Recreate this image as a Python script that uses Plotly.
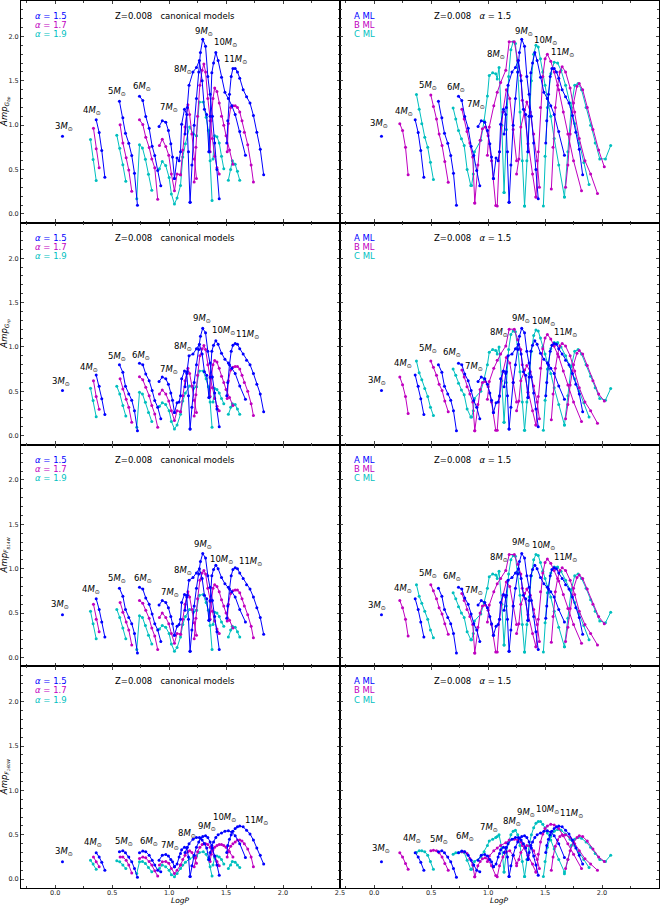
import plotly.graph_objects as go
from plotly.subplots import make_subplots

# ---------------- data (LogP and amplitudes, one sub-list per model track) ----------------
# alpha = 1.5 canonical (also "A ML" in right column)
A15_LOGP = [[0.064], [0.36, 0.386, 0.409, 0.436],
            [0.564, 0.594, 0.617, 0.646, 0.672, 0.696, 0.722],
            [0.74, 0.769, 0.795, 0.825, 0.851, 0.874, 0.90, 0.927],
            [0.912, 0.94, 0.971, 0.994, 1.015, 1.03, 1.047],
            [1.047, 1.07, 1.088, 1.10, 1.11, 1.135, 1.155, 1.17, 1.184],
            [1.14, 1.16, 1.175, 1.21, 1.24, 1.266, 1.29, 1.31, 1.33, 1.35],
            [1.184, 1.20, 1.22, 1.24, 1.26, 1.275, 1.295, 1.32, 1.34, 1.36, 1.38, 1.40, 1.42, 1.44],
            [1.35, 1.36, 1.375, 1.39, 1.41, 1.43, 1.46, 1.49, 1.52, 1.55, 1.58, 1.62, 1.67],
            [1.506, 1.515, 1.53, 1.545, 1.56, 1.58, 1.60, 1.62, 1.65, 1.68, 1.71, 1.74, 1.77, 1.80, 1.83]]
A15_AMP1 = [[0.876], [1.06, 0.917, 0.714, 0.414],
            [1.27, 1.083, 0.91, 0.797, 0.658, 0.459, 0.098],
            [1.327, 1.278, 1.098, 0.966, 0.763, 0.658, 0.489, 0.316],
            [0.985, 1.05, 1.034, 0.94, 0.79, 0.64, 0.40],
            [0.40, 0.63, 0.60, 0.70, 1.01, 1.18, 1.12, 0.70, 0.13],
            [0.90, 1.20, 1.45, 1.60, 1.65, 1.73, 1.50, 1.18, 1.12, 0.70],
            [0.13, 0.55, 1.00, 1.30, 1.60, 1.82, 1.97, 1.89, 1.55, 1.35, 1.10, 0.80, 0.50, 0.17],
            [0.70, 1.10, 1.59, 1.70, 1.82, 1.73, 1.54, 1.37, 1.30, 1.22, 1.12, 0.93, 0.66],
            [0.80, 1.05, 1.35, 1.55, 1.64, 1.64, 1.60, 1.53, 1.40, 1.32, 1.25, 1.11, 0.92, 0.73, 0.44]]
A15_AMP2 = [[0.51], [0.684, 0.556, 0.417, 0.237],
            [0.80, 0.714, 0.556, 0.47, 0.40, 0.28, 0.056],
            [0.816, 0.80, 0.695, 0.62, 0.51, 0.395, 0.32, 0.19],
            [0.61, 0.66, 0.64, 0.58, 0.48, 0.40, 0.26],
            [0.26, 0.37, 0.38, 0.45, 0.64, 0.73, 0.70, 0.45, 0.075],
            [0.55, 0.72, 0.90, 0.92, 0.98, 1.03, 0.92, 0.72, 0.68, 0.43],
            [0.075, 0.32, 0.60, 0.80, 0.97, 1.12, 1.21, 1.16, 0.95, 0.82, 0.66, 0.48, 0.30, 0.10],
            [0.43, 0.66, 0.95, 1.02, 1.07, 1.03, 0.93, 0.86, 0.82, 0.76, 0.70, 0.56, 0.41],
            [0.45, 0.60, 0.80, 0.95, 1.02, 1.04, 1.03, 0.98, 0.92, 0.85, 0.80, 0.70, 0.58, 0.47, 0.27]]
A15_AMP3 = [[0.48], [0.66, 0.54, 0.40, 0.23],
            [0.78, 0.69, 0.54, 0.45, 0.38, 0.27, 0.05],
            [0.79, 0.77, 0.67, 0.60, 0.49, 0.38, 0.31, 0.18],
            [0.59, 0.64, 0.62, 0.56, 0.46, 0.38, 0.25],
            [0.25, 0.35, 0.37, 0.43, 0.62, 0.71, 0.68, 0.43, 0.07],
            [0.53, 0.70, 0.87, 0.90, 0.95, 1.00, 0.89, 0.70, 0.66, 0.42],
            [0.07, 0.31, 0.58, 0.78, 0.94, 1.08, 1.17, 1.12, 0.92, 0.79, 0.64, 0.46, 0.29, 0.09],
            [0.42, 0.64, 0.92, 0.99, 1.04, 1.00, 0.90, 0.83, 0.79, 0.74, 0.68, 0.54, 0.40],
            [0.44, 0.58, 0.77, 0.92, 0.99, 1.01, 1.00, 0.95, 0.89, 0.82, 0.77, 0.68, 0.56, 0.45, 0.26]]
A15_AMP4 = [[0.195], [0.297, 0.25, 0.19, 0.10],
            [0.31, 0.32, 0.297, 0.25, 0.195, 0.12, 0.02],
            [0.297, 0.316, 0.31, 0.27, 0.214, 0.158, 0.10, 0.083],
            [0.214, 0.27, 0.278, 0.26, 0.22, 0.195, 0.14],
            [0.14, 0.17, 0.25, 0.29, 0.33, 0.36, 0.35, 0.25, 0.03],
            [0.30, 0.36, 0.40, 0.45, 0.47, 0.47, 0.44, 0.40, 0.35, 0.22],
            [0.03, 0.15, 0.27, 0.36, 0.42, 0.46, 0.48, 0.49, 0.47, 0.42, 0.35, 0.26, 0.16, 0.045],
            [0.22, 0.30, 0.38, 0.42, 0.47, 0.50, 0.52, 0.54, 0.545, 0.53, 0.49, 0.40, 0.245],
            [0.30, 0.38, 0.45, 0.50, 0.54, 0.57, 0.59, 0.60, 0.59, 0.55, 0.51, 0.44, 0.35, 0.27, 0.17]]

# alpha = 1.7 canonical
A17_LOGP = [[0.336, 0.36, 0.386],
            [0.57, 0.594, 0.623, 0.646, 0.672],
            [0.74, 0.769, 0.795, 0.825, 0.848, 0.874, 0.90],
            [0.915, 0.94, 0.971, 0.997, 1.02, 1.047, 1.07, 1.10],
            [1.10, 1.12, 1.14, 1.165, 1.18, 1.20, 1.22, 1.24],
            [1.22, 1.235, 1.25, 1.27, 1.29, 1.305, 1.32, 1.34, 1.36, 1.38, 1.40, 1.42, 1.44],
            [1.36, 1.37, 1.385, 1.40, 1.42, 1.44, 1.46, 1.48, 1.50, 1.53, 1.56],
            [1.51, 1.52, 1.54, 1.56, 1.58, 1.60, 1.62, 1.64, 1.66, 1.69, 1.72, 1.74]]
A17_AMP1 = [[0.966, 0.733, 0.519],
            [1.004, 0.8, 0.632, 0.496, 0.256],
            [1.06, 1.008, 0.865, 0.748, 0.62, 0.519, 0.165],
            [0.77, 0.84, 0.76, 0.66, 0.45, 0.26, 0.45, 0.44],
            [0.44, 0.72, 0.98, 1.23, 1.12, 0.90, 0.62, 0.40],
            [0.36, 0.75, 1.10, 1.45, 1.62, 1.69, 1.60, 1.30, 1.05, 0.85, 0.65, 0.52, 0.45],
            [0.70, 1.05, 1.30, 1.42, 1.38, 1.25, 1.10, 1.00, 0.88, 0.72, 0.56],
            [0.70, 1.02, 1.20, 1.22, 1.22, 1.20, 1.15, 1.05, 0.92, 0.78, 0.55, 0.36]]
A17_AMP2 = [[0.62, 0.44, 0.297],
            [0.64, 0.526, 0.41, 0.32, 0.15],
            [0.665, 0.63, 0.545, 0.45, 0.34, 0.245, 0.094],
            [0.47, 0.515, 0.47, 0.39, 0.28, 0.17, 0.28, 0.27],
            [0.27, 0.45, 0.62, 0.76, 0.70, 0.56, 0.40, 0.26],
            [0.22, 0.46, 0.68, 0.90, 0.98, 1.015, 0.97, 0.80, 0.65, 0.54, 0.42, 0.33, 0.28],
            [0.44, 0.65, 0.80, 0.846, 0.83, 0.76, 0.67, 0.60, 0.52, 0.43, 0.34],
            [0.42, 0.62, 0.74, 0.77, 0.78, 0.78, 0.75, 0.68, 0.60, 0.50, 0.36, 0.226]]
A17_AMP3 = [[0.60, 0.43, 0.29],
            [0.62, 0.51, 0.40, 0.31, 0.14],
            [0.64, 0.61, 0.53, 0.44, 0.33, 0.24, 0.09],
            [0.45, 0.50, 0.45, 0.38, 0.27, 0.16, 0.27, 0.26],
            [0.26, 0.43, 0.60, 0.74, 0.68, 0.54, 0.39, 0.25],
            [0.21, 0.44, 0.66, 0.87, 0.95, 0.98, 0.94, 0.78, 0.63, 0.52, 0.41, 0.32, 0.27],
            [0.43, 0.63, 0.78, 0.82, 0.80, 0.74, 0.65, 0.58, 0.50, 0.42, 0.33],
            [0.41, 0.60, 0.72, 0.75, 0.76, 0.76, 0.73, 0.66, 0.58, 0.48, 0.35, 0.22]]
A17_AMP4 = [[0.25, 0.195, 0.14],
            [0.25, 0.25, 0.214, 0.158, 0.07],
            [0.233, 0.25, 0.24, 0.20, 0.158, 0.094, 0.034],
            [0.16, 0.195, 0.20, 0.18, 0.12, 0.064, 0.10, 0.16],
            [0.16, 0.22, 0.27, 0.31, 0.32, 0.30, 0.25, 0.18],
            [0.14, 0.24, 0.31, 0.36, 0.39, 0.40, 0.40, 0.39, 0.36, 0.32, 0.26, 0.20, 0.15],
            [0.20, 0.28, 0.33, 0.36, 0.38, 0.39, 0.39, 0.38, 0.36, 0.31, 0.25],
            [0.25, 0.32, 0.37, 0.40, 0.42, 0.44, 0.44, 0.43, 0.40, 0.34, 0.25, 0.14]]

# alpha = 1.9 canonical
A19_LOGP = [[0.31, 0.333, 0.36],
            [0.541, 0.567, 0.594, 0.62],
            [0.716, 0.74, 0.766, 0.792, 0.819, 0.848],
            [0.915, 0.94, 0.97, 1.0, 1.02, 1.047, 1.07, 1.10, 1.12, 1.143, 1.18, 1.213, 1.24],
            [1.24, 1.265, 1.30, 1.325, 1.345, 1.36, 1.377],
            [1.385, 1.40, 1.42, 1.44, 1.46, 1.48],
            [1.52, 1.54, 1.555, 1.58, 1.60, 1.62]]
A19_AMP1 = [[0.838, 0.613, 0.376],
            [0.887, 0.74, 0.553, 0.368],
            [0.17, 0.778, 0.744, 0.617, 0.447, 0.267],
            [0.51, 0.59, 0.545, 0.41, 0.225, 0.11, 0.18, 0.32, 0.64, 0.79, 0.98, 0.90, 0.88],
            [0.88, 1.26, 1.26, 1.09, 0.94, 0.60, 0.15],
            [0.62, 0.88, 0.87, 0.80, 0.65, 0.51],
            [0.38, 0.50, 0.60, 0.56, 0.48, 0.38]]
A19_AMP2 = [[0.534, 0.395, 0.214],
            [0.556, 0.47, 0.34, 0.22],
            [0.094, 0.49, 0.47, 0.376, 0.26, 0.158],
            [0.33, 0.37, 0.35, 0.28, 0.16, 0.075, 0.12, 0.24, 0.39, 0.48, 0.56, 0.53, 0.55],
            [0.55, 0.73, 0.73, 0.64, 0.55, 0.38, 0.094],
            [0.38, 0.53, 0.52, 0.48, 0.42, 0.36],
            [0.24, 0.32, 0.36, 0.35, 0.30, 0.24]]
A19_AMP3 = [[0.52, 0.38, 0.21],
            [0.54, 0.45, 0.33, 0.21],
            [0.09, 0.47, 0.45, 0.36, 0.25, 0.15],
            [0.32, 0.36, 0.34, 0.27, 0.15, 0.07, 0.11, 0.23, 0.37, 0.46, 0.54, 0.51, 0.53],
            [0.53, 0.70, 0.71, 0.62, 0.53, 0.36, 0.09],
            [0.37, 0.51, 0.50, 0.46, 0.40, 0.35],
            [0.23, 0.31, 0.35, 0.34, 0.29, 0.23]]
A19_AMP4 = [[0.214, 0.17, 0.11],
            [0.207, 0.195, 0.158, 0.12],
            [0.064, 0.195, 0.20, 0.177, 0.13, 0.083],
            [0.12, 0.158, 0.14, 0.10, 0.05, 0.026, 0.064, 0.12, 0.16, 0.19, 0.23, 0.25, 0.26],
            [0.26, 0.30, 0.31, 0.28, 0.22, 0.14, 0.034],
            [0.16, 0.24, 0.26, 0.25, 0.22, 0.17],
            [0.12, 0.16, 0.20, 0.19, 0.16, 0.13]]

# B ML (alpha = 1.5)
MLB_LOGP = [[0.225, 0.249, 0.275, 0.298],
            [0.497, 0.52, 0.547, 0.57, 0.596, 0.62, 0.65],
            [0.77, 0.79, 0.815, 0.84, 0.865, 0.883],
            [0.883, 0.91, 0.93, 0.95, 0.975, 1.0, 1.03, 1.067],
            [0.994, 1.01, 1.05, 1.08, 1.11, 1.155, 1.185, 1.23, 1.26, 1.287, 1.30, 1.35, 1.39, 1.42],
            [1.08, 1.10, 1.13, 1.16, 1.19, 1.22, 1.25],
            [1.25, 1.27, 1.287, 1.32, 1.34, 1.37, 1.40, 1.43, 1.45],
            [1.42, 1.44, 1.46, 1.48, 1.50, 1.52, 1.55, 1.58, 1.62, 1.66, 1.70, 1.75, 1.82],
            [1.555, 1.57, 1.59, 1.61, 1.63, 1.65, 1.68, 1.72, 1.76, 1.80, 1.85, 1.90, 1.96],
            [1.68, 1.70, 1.72, 1.75, 1.78, 1.80, 1.83, 1.87, 1.92, 1.97, 2.02]]
MLB_AMP1 = [[1.015, 0.94, 0.75, 0.44],
            [1.34, 1.21, 1.07, 0.90, 0.77, 0.59, 0.357],
            [1.18, 1.07, 0.93, 0.80, 0.64, 0.124],
            [0.124, 0.55, 0.83, 0.96, 0.98, 0.88, 0.60, 0.094],
            [0.66, 0.98, 1.22, 1.37, 1.48, 1.62, 1.94, 1.94, 1.73, 1.56, 1.28, 0.79, 0.45, 0.19],
            [0.09, 0.70, 1.15, 1.40, 1.30, 0.95, 0.60],
            [0.45, 0.62, 0.98, 1.17, 1.26, 1.15, 0.90, 0.60, 0.30],
            [0.19, 0.70, 1.20, 1.55, 1.75, 1.80, 1.72, 1.60, 1.40, 1.15, 0.90, 0.60, 0.26],
            [0.28, 0.75, 1.20, 1.45, 1.60, 1.66, 1.60, 1.42, 1.15, 0.85, 0.60, 0.45, 0.23],
            [0.30, 0.55, 0.90, 1.25, 1.44, 1.47, 1.40, 1.20, 0.95, 0.72, 0.53]]
MLB_AMP2 = [[0.66, 0.575, 0.44, 0.25],
            [0.84, 0.77, 0.68, 0.58, 0.51, 0.39, 0.27],
            [0.74, 0.66, 0.55, 0.47, 0.38, 0.056],
            [0.056, 0.35, 0.52, 0.60, 0.61, 0.55, 0.38, 0.06],
            [0.41, 0.61, 0.76, 0.85, 0.92, 1.01, 1.20, 1.20, 1.08, 0.97, 0.80, 0.49, 0.28, 0.12],
            [0.06, 0.44, 0.72, 0.88, 0.82, 0.60, 0.38],
            [0.28, 0.39, 0.62, 0.74, 0.79, 0.72, 0.56, 0.38, 0.19],
            [0.12, 0.44, 0.76, 0.98, 1.10, 1.14, 1.09, 1.01, 0.89, 0.73, 0.57, 0.38, 0.16],
            [0.18, 0.47, 0.76, 0.92, 1.01, 1.04, 1.01, 0.90, 0.73, 0.54, 0.38, 0.28, 0.14],
            [0.19, 0.35, 0.57, 0.80, 0.93, 0.96, 0.92, 0.79, 0.62, 0.47, 0.39]]
MLB_AMP3 = [[0.64, 0.56, 0.43, 0.24],
            [0.82, 0.75, 0.66, 0.56, 0.49, 0.38, 0.26],
            [0.72, 0.64, 0.54, 0.46, 0.37, 0.05],
            [0.05, 0.34, 0.50, 0.58, 0.59, 0.53, 0.37, 0.06],
            [0.40, 0.59, 0.74, 0.83, 0.89, 0.98, 1.16, 1.16, 1.05, 0.94, 0.78, 0.48, 0.27, 0.12],
            [0.06, 0.43, 0.70, 0.85, 0.80, 0.58, 0.37],
            [0.27, 0.38, 0.60, 0.72, 0.77, 0.70, 0.54, 0.37, 0.18],
            [0.12, 0.43, 0.74, 0.95, 1.07, 1.11, 1.06, 0.98, 0.86, 0.71, 0.55, 0.37, 0.16],
            [0.17, 0.46, 0.74, 0.89, 0.98, 1.01, 0.98, 0.87, 0.71, 0.52, 0.37, 0.27, 0.14],
            [0.18, 0.34, 0.55, 0.78, 0.90, 0.93, 0.89, 0.77, 0.60, 0.46, 0.38]]
MLB_AMP4 = [[0.297, 0.25, 0.177, 0.11],
            [0.32, 0.327, 0.32, 0.297, 0.25, 0.177, 0.10],
            [0.31, 0.31, 0.29, 0.233, 0.158, 0.026],
            [0.026, 0.15, 0.20, 0.23, 0.24, 0.22, 0.15, 0.04],
            [0.20, 0.26, 0.32, 0.35, 0.38, 0.41, 0.44, 0.45, 0.44, 0.42, 0.38, 0.27, 0.17, 0.08],
            [0.026, 0.15, 0.25, 0.31, 0.32, 0.27, 0.18],
            [0.15, 0.22, 0.30, 0.36, 0.38, 0.37, 0.32, 0.22, 0.12],
            [0.08, 0.28, 0.42, 0.51, 0.57, 0.60, 0.62, 0.61, 0.57, 0.49, 0.40, 0.28, 0.12],
            [0.10, 0.25, 0.37, 0.44, 0.48, 0.50, 0.50, 0.47, 0.40, 0.32, 0.23, 0.17, 0.10],
            [0.12, 0.22, 0.32, 0.42, 0.47, 0.49, 0.48, 0.43, 0.34, 0.25, 0.20]]

# C ML (alpha = 1.5)
MLC_LOGP = [[0.371, 0.395, 0.418, 0.444, 0.47, 0.494, 0.52],
            [0.693, 0.716, 0.74, 0.766, 0.79, 0.816, 0.848],
            [0.855, 0.87, 0.88, 0.936, 0.965, 0.994, 1.01, 1.04, 1.067, 1.08, 1.096, 1.12, 1.14],
            [1.14, 1.16, 1.18, 1.20, 1.22, 1.24, 1.26, 1.28, 1.30, 1.32],
            [1.32, 1.34, 1.36, 1.38, 1.40, 1.42, 1.44, 1.46, 1.48, 1.50, 1.52, 1.55, 1.58, 1.62, 1.67],
            [1.485, 1.50, 1.52, 1.55, 1.58, 1.61, 1.64, 1.68, 1.72, 1.76, 1.80, 1.84, 1.886],
            [1.67, 1.70, 1.73, 1.76, 1.79, 1.82, 1.86, 1.90, 1.94, 1.98, 2.03, 2.076]]
MLC_AMP1 = [[1.346, 1.18, 1.015, 0.865, 0.75, 0.583, 0.387],
            [1.195, 1.07, 0.94, 0.846, 0.77, 0.50, 0.32],
            [0.32, 0.45, 0.70, 0.83, 1.05, 1.33, 1.56, 1.59, 1.58, 1.52, 1.65, 1.00, 0.24],
            [0.24, 0.95, 1.55, 1.85, 1.94, 1.92, 1.60, 1.15, 0.60, 0.09],
            [0.09, 0.60, 1.10, 1.50, 1.80, 1.90, 1.88, 1.75, 1.60, 1.45, 1.30, 1.10, 0.85, 0.55, 0.19],
            [0.09, 0.65, 1.20, 1.58, 1.71, 1.70, 1.62, 1.45, 1.25, 1.02, 0.80, 0.58, 0.33],
            [0.19, 0.70, 1.20, 1.45, 1.47, 1.40, 1.20, 1.00, 0.80, 0.62, 0.62, 0.77]]
MLC_AMP2 = [[0.84, 0.71, 0.63, 0.53, 0.44, 0.32, 0.226],
            [0.75, 0.68, 0.59, 0.515, 0.46, 0.30, 0.21],
            [0.21, 0.28, 0.42, 0.50, 0.64, 0.80, 0.94, 0.97, 0.96, 0.92, 1.00, 0.62, 0.15],
            [0.15, 0.60, 0.97, 1.14, 1.18, 1.17, 0.98, 0.72, 0.38, 0.06],
            [0.06, 0.38, 0.70, 0.95, 1.13, 1.19, 1.18, 1.10, 1.00, 0.92, 0.82, 0.70, 0.54, 0.35, 0.12],
            [0.06, 0.40, 0.75, 0.98, 1.05, 1.05, 1.00, 0.90, 0.78, 0.64, 0.50, 0.37, 0.21],
            [0.12, 0.45, 0.78, 0.95, 0.97, 0.92, 0.80, 0.67, 0.54, 0.42, 0.40, 0.53]]
MLC_AMP3 = [[0.82, 0.69, 0.61, 0.52, 0.43, 0.31, 0.22],
            [0.73, 0.66, 0.57, 0.50, 0.45, 0.29, 0.20],
            [0.20, 0.27, 0.41, 0.49, 0.62, 0.78, 0.91, 0.94, 0.93, 0.89, 0.97, 0.60, 0.14],
            [0.14, 0.58, 0.94, 1.10, 1.15, 1.14, 0.95, 0.70, 0.37, 0.06],
            [0.06, 0.37, 0.68, 0.92, 1.10, 1.16, 1.15, 1.07, 0.97, 0.89, 0.80, 0.68, 0.52, 0.34, 0.12],
            [0.06, 0.39, 0.73, 0.95, 1.02, 1.02, 0.97, 0.87, 0.76, 0.62, 0.49, 0.36, 0.20],
            [0.12, 0.44, 0.76, 0.92, 0.94, 0.89, 0.78, 0.65, 0.52, 0.41, 0.39, 0.51]]
MLC_AMP4 = [[0.30, 0.32, 0.32, 0.31, 0.27, 0.20, 0.11],
            [0.28, 0.297, 0.30, 0.31, 0.30, 0.214, 0.11],
            [0.11, 0.16, 0.20, 0.25, 0.31, 0.38, 0.43, 0.45, 0.47, 0.48, 0.50, 0.35, 0.08],
            [0.08, 0.30, 0.42, 0.50, 0.54, 0.55, 0.50, 0.38, 0.20, 0.03],
            [0.03, 0.22, 0.38, 0.50, 0.58, 0.63, 0.65, 0.65, 0.62, 0.58, 0.52, 0.44, 0.34, 0.22, 0.08],
            [0.03, 0.20, 0.36, 0.48, 0.54, 0.56, 0.55, 0.51, 0.45, 0.38, 0.30, 0.22, 0.13],
            [0.06, 0.22, 0.38, 0.45, 0.47, 0.46, 0.42, 0.36, 0.29, 0.22, 0.20, 0.27]]

MASSES = ['3', '4', '5', '6', '7', '8', '9', '10', '11']
LAB_L = [
    [(0.073, 0.99), (0.32, 1.165), (0.54, 1.38), (0.766, 1.44), (1.0, 1.195), (1.126, 1.63), (1.307, 2.06), (1.497, 1.93), (1.585, 1.74)],
    [(0.05, 0.61), (0.30, 0.77), (0.54, 0.89), (0.75, 0.90), (1.0, 0.74), (1.12, 1.0), (1.29, 1.32), (1.48, 1.18), (1.69, 1.135)],
    [(0.044, 0.60), (0.31, 0.76), (0.54, 0.89), (0.77, 0.89), (1.01, 0.73), (1.12, 0.98), (1.30, 1.27), (1.46, 1.10), (1.71, 1.08)],
    [(0.073, 0.31), (0.33, 0.41), (0.605, 0.42), (0.82, 0.42), (1.01, 0.38), (1.155, 0.515), (1.336, 0.59), (1.49, 0.70), (1.77, 0.665)],
]
LAB_R = [
    [(0.038, 1.015), (0.266, 1.154), (0.474, 1.447), (0.716, 1.42), (0.89, 1.233), (1.067, 1.80), (1.316, 2.056), (1.50, 1.96), (1.65, 1.82)],
    [(0.023, 0.62), (0.25, 0.81), (0.474, 0.98), (0.68, 0.94), (0.88, 0.78), (1.096, 1.16), (1.29, 1.32), (1.49, 1.29), (1.675, 1.16)],
    [(0.023, 0.59), (0.25, 0.78), (0.474, 0.95), (0.68, 0.91), (0.88, 0.75), (1.096, 1.13), (1.29, 1.29), (1.49, 1.26), (1.675, 1.13)],
    [(0.058, 0.35), (0.336, 0.46), (0.57, 0.45), (0.80, 0.48), (1.01, 0.58), (1.21, 0.65), (1.33, 0.75), (1.52, 0.78), (1.73, 0.74)],
]
Y_TITLES = ['<i>Amp<sub>G<sub>bp</sub></sub></i>', '<i>Amp<sub>G<sub>rp</sub></sub></i>',
            '<i>Amp<sub>F<sub>814W</sub></sub></i>', '<i>Amp<sub>F<sub>160W</sub></sub></i>']

BLUE, MAG, CYAN = '#0000ff', '#bf00bf', '#00bfbf'
FONT = 'DejaVu Sans'


def flat(x_segs, y_segs):
    xs, ys = [], []
    for xs_, ys_ in zip(x_segs, y_segs):
        assert len(xs_) == len(ys_), (xs_, ys_)
        xs += list(xs_) + [None]
        ys += list(ys_) + [None]
    return xs, ys


fig = make_subplots(rows=4, cols=2, horizontal_spacing=0, vertical_spacing=0)

left_series = [(A19_LOGP, [A19_AMP1, A19_AMP2, A19_AMP3, A19_AMP4], CYAN),
               (A17_LOGP, [A17_AMP1, A17_AMP2, A17_AMP3, A17_AMP4], MAG),
               (A15_LOGP, [A15_AMP1, A15_AMP2, A15_AMP3, A15_AMP4], BLUE)]
right_series = [(MLC_LOGP, [MLC_AMP1, MLC_AMP2, MLC_AMP3, MLC_AMP4], CYAN),
                (MLB_LOGP, [MLB_AMP1, MLB_AMP2, MLB_AMP3, MLB_AMP4], MAG),
                (A15_LOGP, [A15_AMP1, A15_AMP2, A15_AMP3, A15_AMP4], BLUE)]

for col, series in ((1, left_series), (2, right_series)):
    for logp, amps, color in series:
        for r in range(4):
            xs, ys = flat(logp, amps[r])
            fig.add_trace(go.Scatter(x=xs, y=ys, mode='lines+markers',
                                     line=dict(color=color, width=1),
                                     marker=dict(color=color, size=3),
                                     hoverinfo='skip', connectgaps=False),
                          row=r + 1, col=col)

tickfont = dict(family=FONT, size=6.5, color='#222')
for r in range(1, 5):
    for c in (1, 2):
        fig.update_xaxes(range=[-0.3, 2.5], tick0=0, dtick=0.5, tickformat='.1f', automargin=False,
                         showticklabels=(r == 4), ticks='inside', ticklen=3.5, tickwidth=0.8,
                         ticklabelstandoff=-2,
                         minor=dict(ticks='inside', ticklen=2, dtick=0.25, tickwidth=0.6),
                         showline=True, linecolor='black', linewidth=0.9, mirror='allticks',
                         showgrid=False, zeroline=False, tickfont=tickfont, row=r, col=c)
        fig.update_yaxes(range=[-0.1, 2.4], tick0=0, dtick=0.5, tickformat='.1f', automargin=False,
                         showticklabels=(c == 1), ticks='inside', ticklen=3.5, tickwidth=0.8,
                         minor=dict(ticks='inside', ticklen=2, dtick=0.1, tickwidth=0.6),
                         showline=True, linecolor='black', linewidth=0.9, mirror='allticks',
                         showgrid=False, zeroline=False, tickfont=tickfont, row=r, col=c)

nb = '\u00a0'
for r in range(1, 5):
    # legend-like texts
    for i, (txt, col) in enumerate([('<i>α</i> = 1.5', BLUE), ('<i>α</i> = 1.7', MAG), ('<i>α</i> = 1.9', CYAN)]):
        fig.add_annotation(text=txt, xref='x domain', yref='y domain', x=0.038, y=0.932 - i * 0.041,
                           xanchor='left', yanchor='middle', showarrow=False,
                           font=dict(family=FONT, size=8.5, color=col), row=r, col=1)
    for i, (txt, col) in enumerate([('A ML', BLUE), ('B ML', MAG), ('C ML', CYAN)]):
        fig.add_annotation(text=txt, xref='x domain', yref='y domain', x=0.038, y=0.932 - i * 0.041,
                           xanchor='left', yanchor='middle', showarrow=False,
                           font=dict(family=FONT, size=8.5, color=col), row=r, col=2)
    fig.add_annotation(text='Z=0.008' + nb * 3 + 'canonical models', xref='x domain', yref='y domain',
                       x=0.288, y=0.932, xanchor='left', yanchor='middle', showarrow=False,
                       font=dict(family=FONT, size=8.5, color='black'), row=r, col=1)
    fig.add_annotation(text='Z=0.008' + nb * 3 + '<i>α</i> = 1.5', xref='x domain', yref='y domain',
                       x=0.288, y=0.932, xanchor='left', yanchor='middle', showarrow=False,
                       font=dict(family=FONT, size=8.5, color='black'), row=r, col=2)
    # mass labels
    for c, labs in ((1, LAB_L), (2, LAB_R)):
        for m, (lx, ly) in zip(MASSES, labs[r - 1]):
            fig.add_annotation(text=m + '<i>M</i><sub>⊙</sub>', x=lx, y=ly, showarrow=False,
                               xanchor='center', yanchor='middle',
                               font=dict(family=FONT, size=8.5, color='black'), row=r, col=c)
    # y-axis titles
    fig.add_annotation(text=Y_TITLES[r - 1], xref='paper', yref='paper', x=-0.025,
                       y=1 - (r - 0.5) / 4, textangle=-90, showarrow=False,
                       xanchor='center', yanchor='middle',
                       font=dict(family=FONT, size=8.5, color='black'))

for c in (0.25, 0.75):
    fig.add_annotation(text='<i>LogP</i>', xref='paper', yref='paper', x=c, y=-0.0198,
                       showarrow=False, xanchor='center', yanchor='bottom', borderpad=0,
                       font=dict(family=FONT, size=7.5, color='black'))

fig.update_layout(width=664, height=906, margin=dict(l=21, r=5, t=1, b=18, autoexpand=False),
                  plot_bgcolor='white', paper_bgcolor='white', showlegend=False,
                  font=dict(family=FONT, size=8, color='black'))

fig.write_html('out.html', config={'displayModeBar': False},
               post_script="document.body.style.margin='0';document.body.style.overflow='hidden';")
